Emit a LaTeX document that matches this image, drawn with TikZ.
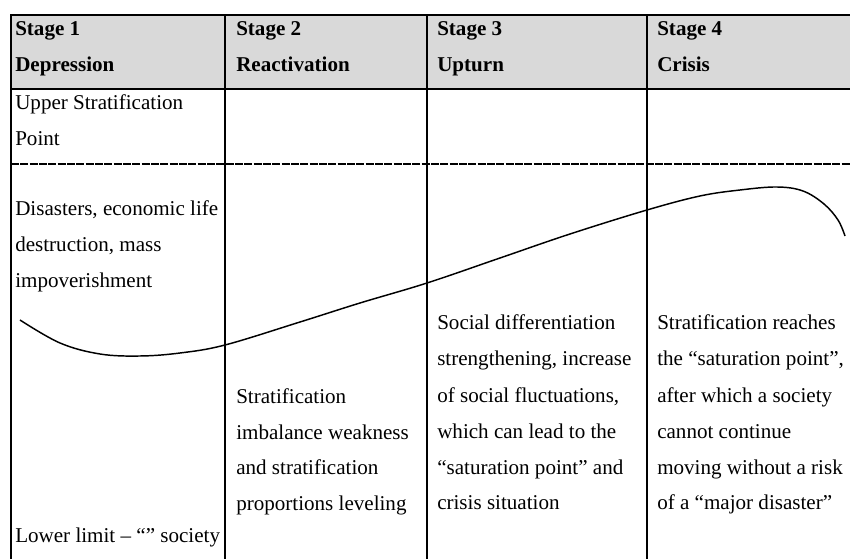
\documentclass[tikz,border=0pt]{standalone}
\usepackage{fontspec}
\setmainfont{Liberation Serif}
\definecolor{headgray}{HTML}{D9D9D9}
\begin{document}
\begin{tikzpicture}[x=0.75pt,y=-0.75pt,
  txt/.style={anchor=base west, inner sep=0pt, align=left, font=\fontsize{15.8}{27}\selectfont},
  hdr/.style={txt, font=\fontsize{15.8}{27}\selectfont\bfseries},
  frame/.style={line width=1.5pt, line cap=rect},
  thinframe/.style={line width=1.1pt},
  cutline/.style={line width=1.6pt, dash pattern=on 6pt off 1pt},
  curveline/.style={line width=1.1pt, line join=round}]
\useasboundingbox (0,0) rectangle (850,559);
% header background
\fill[headgray] (11,15) rectangle (850,89);
% named corner coordinates
\coordinate (tl) at (11,15);
\coordinate (tr) at (850,15);
\coordinate (hl) at (11,89);
\coordinate (hr) at (850,89);
\coordinate (dl) at (11,164);
\coordinate (dr) at (850,164);
\coordinate (bl) at (11,559);
\coordinate (c2t) at (225,15);
\coordinate (c2b) at (225,559);
\coordinate (c3t) at (427,15);
\coordinate (c3b) at (427,559);
\coordinate (c4t) at (647,15);
\coordinate (c4b) at (647,559);
% dashed line
\draw[cutline] (dl) -- (dr);
% frame lines
\draw[frame] (tl) -- (tr);
\draw[frame] (hl) -- (hr);
\draw[frame] (tl) -- (bl);
\draw[frame] (c2t) -- (c2b);
\draw[thinframe] (c3t) -- (c3b);
\draw[frame] (c4t) -- (c4b);
% headers (base anchor = baseline of last line)
\node[hdr] (h1) at (15,72) {Stage 1\\Depression};
\node[hdr] (h2) at (236,72) {Stage 2\\Reactivation};
\node[hdr] (h3) at (437,72) {Stage 3\\Upturn};
\node[hdr] (h4) at (657,72) {Stage 4\\Crisis};
% stage 1 texts
\node[txt] (upper) at (15,146) {Upper Stratification\\Point};
\node[txt] (disas) at (15,288) {Disasters, economic life\\destruction, mass\\impoverishment};
\node[txt] (lower) at (15,542) {Lower limit -- “” society};
% stage 2
\node[txt] (s2) at (236,511) {Stratification\\imbalance weakness\\and stratification\\proportions leveling};
% stage 3
\node[txt] (s3) at (437,510) {Social differentiation\\strengthening, increase\\of social fluctuations,\\which can lead to the\\“saturation point” and\\crisis situation};
% stage 4
\node[txt] (s4) at (657,510) {Stratification reaches\\the “saturation point”,\\after which a society\\cannot continue\\moving without a risk\\of a “major disaster”};
% curve
\draw[curveline] plot[smooth, tension=0.6] coordinates {
  (20,320) (60,343) (100,354) (140,356) (180,353) (225,345) (300,322)
  (360,303) (427,283) (500,258) (570,234) (647,210) (700,196) (740,190)
  (777,187) (803,191) (824,204) (838,220) (845,236)};
\end{tikzpicture}
\end{document}
